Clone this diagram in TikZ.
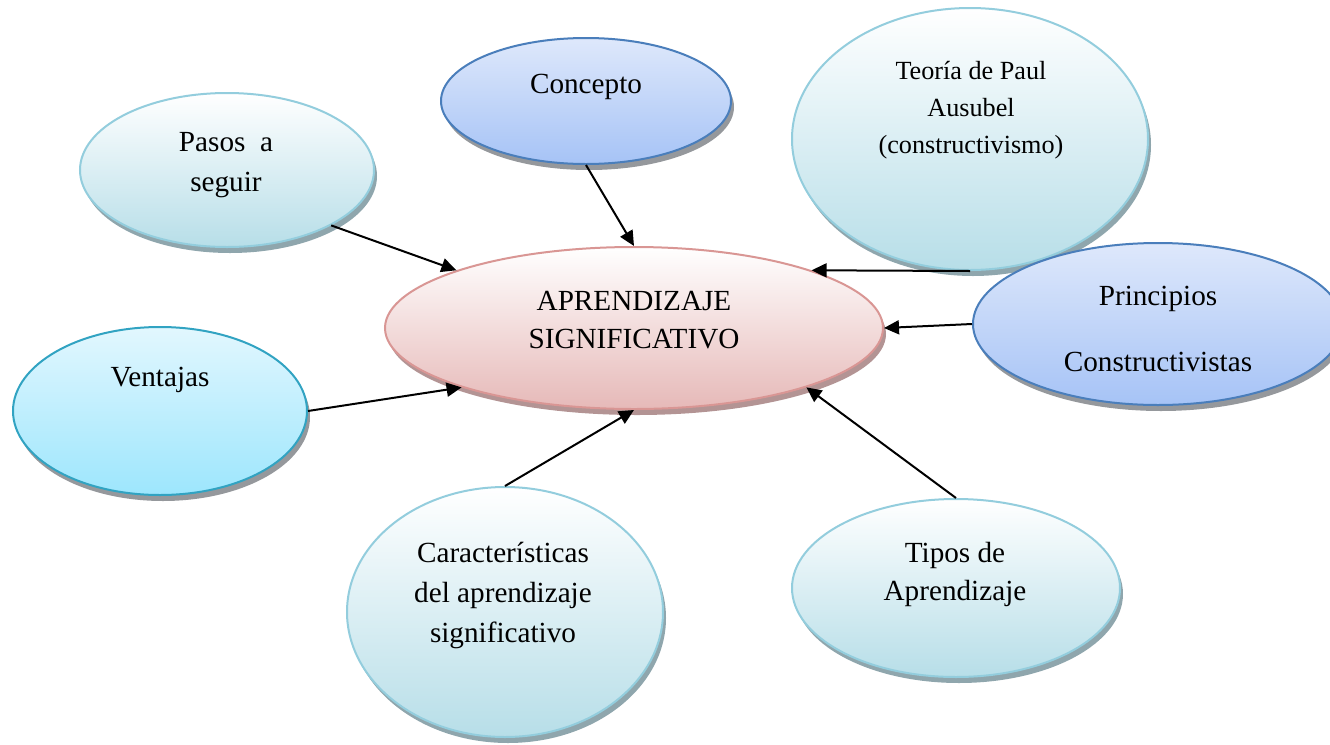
\documentclass[tikz,border=0pt]{standalone}
\usepackage{fontspec}
\setmainfont{Liberation Serif}
\usepackage{xcolor}
\usetikzlibrary{arrows.meta,shapes.geometric,shadows}

\definecolor{aquaborde}{HTML}{93CDDD}
\definecolor{aquafondo}{HTML}{B7DEE8}
\definecolor{aquasombra}{HTML}{8FA6AD}
\definecolor{azulborde}{HTML}{4A7EBB}
\definecolor{azultope}{HTML}{DEE8FB}
\definecolor{azulfondo}{HTML}{A6C3F6}
\definecolor{celesteborde}{HTML}{31A3C2}
\definecolor{celestetope}{HTML}{E2F7FE}
\definecolor{celestefondo}{HTML}{9DE6FD}
\definecolor{rosaborde}{HTML}{D99694}
\definecolor{rosafondo}{HTML}{E6B9B8}
\definecolor{rosasombra}{HTML}{B39494}
\definecolor{grissombra}{HTML}{95989C}

\tikzset{
  burbuja/.style={ellipse, line width=1pt, inner sep=0pt,
    drop shadow={shadow xshift=1.5pt, shadow yshift=-3pt, fill=#1, opacity=1}},
  aqua/.style={burbuja=aquasombra, draw=aquaborde, top color=white, bottom color=aquafondo},
  azul/.style={burbuja=grissombra, draw=azulborde, top color=azultope, bottom color=azulfondo},
  celeste/.style={burbuja=grissombra, draw=celesteborde, top color=celestetope, bottom color=celestefondo},
  rosa/.style={burbuja=rosasombra, draw=rosaborde, top color=white, bottom color=rosafondo},
  texto/.style={align=center, inner sep=0pt, font=\fontsize{14.6}{19}\selectfont},
  flecha/.style={->, line width=1pt},
}

\begin{document}
\begin{tikzpicture}[x=0.5pt, y=-0.5pt, >={Triangle[length=7.5pt, width=7pt]}]
  \useasboundingbox (0,0) rectangle (1330,745);
  % burbujas alrededor del concepto central
  \node[aqua, minimum width=178pt, minimum height=131pt] (teoria) at (970,139) {};
  \node[azul, minimum width=185pt, minimum height=81pt] (principios) at (1158,324) {};
  \node[azul, minimum width=145pt, minimum height=63pt] (concepto) at (586,101) {};
  \node[aqua, minimum width=147pt, minimum height=77pt] (pasos) at (227,170) {};
  \node[celeste, minimum width=147pt, minimum height=84pt] (ventajas) at (160,411) {};
  \node[aqua, minimum width=158pt, minimum height=125pt] (caract) at (505,612) {};
  \node[aqua, minimum width=164pt, minimum height=89pt] (tipos) at (956,588) {};
  \node[rosa, minimum width=249pt, minimum height=81pt] (apr) at (634,328) {};

  % textos
  \node[texto] (t-apr) at (634,320) {APRENDIZAJE\\SIGNIFICATIVO};
  \node[texto] (t-concepto) at (586,87) {Concepto};
  \node[texto, font=\fontsize{13.1}{18.5}\selectfont] (t-teoria) at (971,110) {Teoría de Paul\\Ausubel\\(constructivismo)};
  \node[texto] (t-principios) at (1158,329) {Principios\\[14pt]Constructivistas};
  \node[texto, font=\fontsize{14.6}{20}\selectfont] (t-pasos) at (226,165) {Pasos\ \ a\\seguir};
  \node[texto] (t-ventajas) at (160,380) {Ventajas};
  \node[texto, font=\fontsize{14.6}{20}\selectfont] (t-caract) at (503,595) {Características\\del aprendizaje\\significativo};
  \node[texto] (t-tipos) at (955,574) {Tipos de\\Aprendizaje};

  % flechas hacia el centro
  \draw[flecha] (concepto.south) -- (apr.90);
  \draw[flecha] (pasos.-28) -- (apr.162);
  \draw[flecha] (ventajas.east) -- (apr.199);
  \draw[flecha] (caract.north) -- (apr.270);
  \draw[flecha] (tipos.north) -- (apr.-19);
  \draw[flecha] (teoria.south) -- (apr.18);
  \draw[flecha] (principios.west) -- (apr.0);
\end{tikzpicture}
\end{document}
